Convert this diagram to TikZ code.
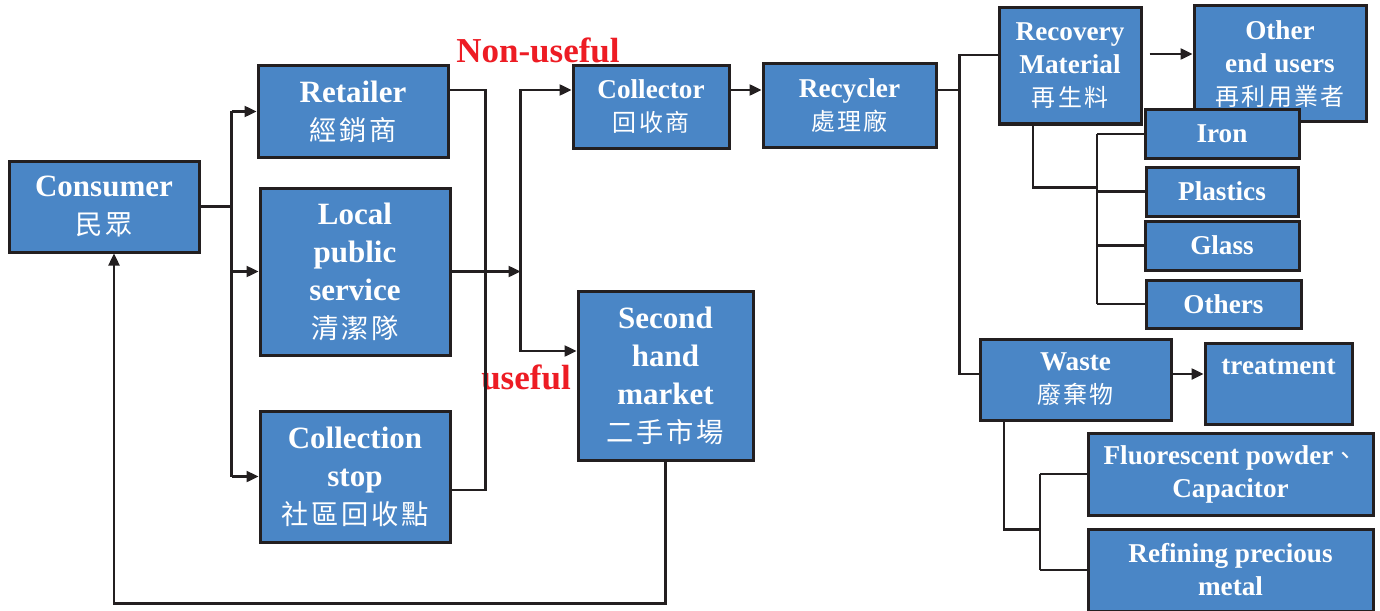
\documentclass[tikz,border=0pt]{standalone}
\usepackage{fontspec}
\setmainfont{Liberation Serif}
\newfontfamily\cjkfont[Scale=0.88,LetterSpace=10]{Noto Sans CJK TC}
\usetikzlibrary{arrows.meta}
\definecolor{boxblue}{RGB}{74,134,198}
\definecolor{boxline}{RGB}{35,31,32}
\definecolor{labelred}{RGB}{237,28,36}
\newcommand\bigtext{\bfseries\fontsize{15.5}{19}\selectfont}
\newcommand\smalltext{\bfseries\fontsize{13.6}{16.5}\selectfont}
\newcommand\zh[1]{{\cjkfont\mdseries #1}}
\tikzset{
  box/.style={draw=boxline, line width=1.5pt, fill=boxblue, text=white,
    align=center, inner sep=0pt, font=\bigtext},
  small/.style={font=\smalltext},
  line/.style={draw=boxline, line width=1.2pt},
  arr/.style={line, -{Triangle[length=6pt,width=5.5pt]}},
  lbl/.style={text=labelred, font=\bfseries\fontsize{17.5}{20}\selectfont},
}
\begin{document}
\begin{tikzpicture}[x=0.5pt,y=-0.5pt]
  \useasboundingbox (0,0) rectangle (1380,610);
  \node[box, minimum width=95pt, minimum height=45.5pt] (consumer) at (104,206.5) {Consumer\\\zh{民眾}};
  \node[box, minimum width=95pt, minimum height=45.5pt] (retailer) at (353,111.5) {Retailer\\\zh{經銷商}};
  \node[box, minimum width=95pt, minimum height=83.5pt] (local) at (355,271.5) {Local\\public\\service\\\zh{清潔隊}};
  \node[box, minimum width=95pt, minimum height=65.5pt] (stop) at (355,476.5) {Collection\\stop\\\zh{社區回收點}};
  \node[box, small, minimum width=78pt, minimum height=41pt] (collector) at (651,107) {Collector\\\zh{回收商}};
  \node[box, small, minimum width=86.5pt, minimum height=41.5pt] (recycler) at (849.5,105.5) {Recycler\\\zh{處理廠}};
  \node[box, minimum width=87.5pt, minimum height=84.5pt] (market) at (665.5,375.5) {Second\\hand\\market\\\zh{二手市場}};
  \node[box, small, minimum width=71pt, minimum height=58pt] (recovery) at (1070,66) {Recovery\\Material\\\zh{再生料}};
  \node[box, small, minimum width=86pt, minimum height=58pt] (enduser) at (1280,64) {Other\\end users\\\zh{再利用業者}};
  \node[box, small, minimum width=77pt, minimum height=24pt] (iron) at (1222,134) {Iron};
  \node[box, small, minimum width=76pt, minimum height=24.5pt] (plastics) at (1222,191.5) {Plastics};
  \node[box, small, minimum width=77pt, minimum height=24.5pt] (glass) at (1222,245.5) {Glass};
  \node[box, small, minimum width=77.5pt, minimum height=24pt] (others) at (1223.5,304) {Others};
  \node[box, small, minimum width=95.5pt, minimum height=40.5pt] (waste) at (1075.5,379.5) {Waste\\\zh{廢棄物}};
  \node[box, small, minimum width=73.5pt, minimum height=40.5pt] (treatment) at (1278.5,383.5) {treatment\\\phantom{t}};
  \node[box, small, minimum width=142.5pt, minimum height=41pt] (fluor) at (1230.5,474) {Fluorescent powder\zh{、}\\Capacitor};
  \node[box, small, minimum width=142.5pt, minimum height=41pt] (refine) at (1230.5,570) {Refining precious\\metal};
  \node[lbl] (nonuseful) at (538,50) {Non-useful};
  \node[lbl] (useful) at (526,377) {useful};

  \draw[line] (consumer.east) -- ++(31,0) coordinate (cj);
  \draw[line] (cj |- retailer) -- (cj |- stop);
  \draw[arr] (cj |- retailer) -- (retailer.west);
  \draw[arr] (cj |- local) -- (local.west);
  \draw[arr] (cj |- stop) -- (stop.west);
  \draw[line] ([yshift=10.75pt]retailer.east) -| ([xshift=17pt,yshift=-6.75pt]stop.east) -- ([yshift=-6.75pt]stop.east);
  \draw[arr] (local.east) -- ++(69,0) coordinate (sj);
  \draw[arr] (sj) |- ([yshift=8.5pt]collector.west);
  \draw[arr] (sj) |- ([yshift=12.25pt]market.west);
  \coordinate (c1) at ([yshift=8.5pt]collector.east);
  \draw[arr] (c1) -- (c1 -| recycler.west);
  \coordinate (r1) at ([yshift=7.75pt]recycler.east);
  \draw[line] (r1) -- ++(22,0) coordinate (rj);
  \coordinate (m1) at ([yshift=5.5pt]recovery.west);
  \coordinate (w1) at ([yshift=2.75pt]waste.west);
  \draw[line] (m1) -| (w1 -| rj) -- (w1);
  \coordinate (m2) at ([xshift=3.5pt,yshift=6pt]recovery.east);
  \draw[arr] (m2) -- (m2 -| enduser.west);
  \draw[line] ([xshift=-18.5pt]recovery.south) -- ++(0,62) -- ++(64,0) coordinate (mj);
  \draw[line] (mj |- iron) -- (mj |- others);
  \foreach \n in {iron,plastics,glass,others}
    \draw[line] (mj |- \n) -- (\n.west);
  \coordinate (w2) at ([yshift=2.75pt]waste.east);
  \draw[arr] (w2) -- (w2 -| treatment.west);
  \draw[line] ([xshift=-35.75pt]waste.south) -- ++(0,108) -- ++(36,0) coordinate (wj);
  \draw[line] (wj |- fluor) -- (wj |- refine);
  \draw[line] (wj |- fluor) -- (fluor.west);
  \draw[line] (wj |- refine) -- (refine.west);
  \draw[arr] (market.south) -- ++(0,142) -| ([xshift=5pt]consumer.south);
\end{tikzpicture}
\end{document}
